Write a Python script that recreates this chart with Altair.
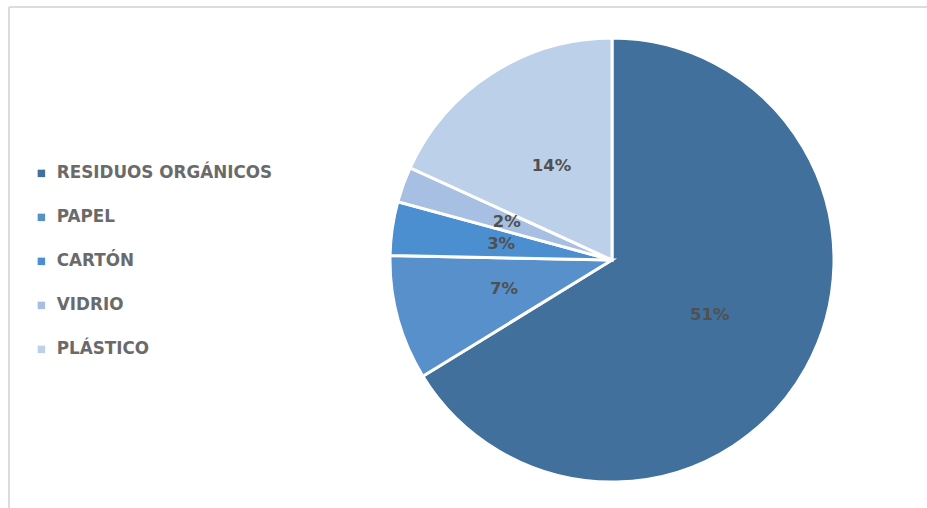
import altair as alt
import pandas as pd

categories = ["RESIDUOS ORGÁNICOS", "PAPEL", "CARTÓN", "VIDRIO", "PLÁSTICO"]
values = [51, 7, 3, 2, 14]
labels = ["51%", "7%", "3%", "2%", "14%"]
colors = ["#41709c", "#5790cb", "#4b8fd0", "#a6bfe2", "#bdd0ea"]

df = pd.DataFrame({
    "cat": categories,
    "val": values,
    "label": labels,
    "idx": list(range(len(categories))),
})

color_scale = alt.Scale(domain=categories, range=colors)

base = alt.Chart(df).encode(
    theta=alt.Theta("val:Q", stack=True),
    order=alt.Order("idx:Q"),
    x=alt.value(612),
    y=alt.value(260),
)

arcs = base.mark_arc(outerRadius=222, stroke="white", strokeWidth=3).encode(
    color=alt.Color(
        "cat:N",
        scale=color_scale,
        sort=categories,
        legend=alt.Legend(
            title=None,
            orient="none",
            legendX=33,
            legendY=165,
            symbolType="square",
            symbolSize=56,
            symbolStrokeWidth=0,
            labelFontSize=16.8,
            labelFont="DejaVu Sans",
            labelFontWeight="bold",
            labelColor="#6a6a6a",
            labelLimit=0,
            rowPadding=26,
            labelOffset=7,
        ),
    )
)

text = base.mark_text(radius=112, font="DejaVu Sans", fontSize=16.5, fontWeight="bold",
                      color="#505050").encode(text="label:N")

frame_data = alt.Data(values=[{"a": 1}])
vline = alt.Chart(frame_data).mark_rule(color="#dcdcdc", strokeWidth=2).encode(
    x=alt.value(9), y=alt.value(7), y2=alt.value(508)
)
hline = alt.Chart(frame_data).mark_rule(color="#dcdcdc", strokeWidth=2).encode(
    x=alt.value(9), x2=alt.value(927), y=alt.value(7)
)

chart = alt.layer(vline, hline, arcs, text).properties(
    width=927, height=508, autosize=alt.AutoSizeParams(type="none"), padding=0,
    background="white"
).configure_view(stroke=None)

chart.save("out.html", embed_options={"renderer": "svg", "actions": False})
